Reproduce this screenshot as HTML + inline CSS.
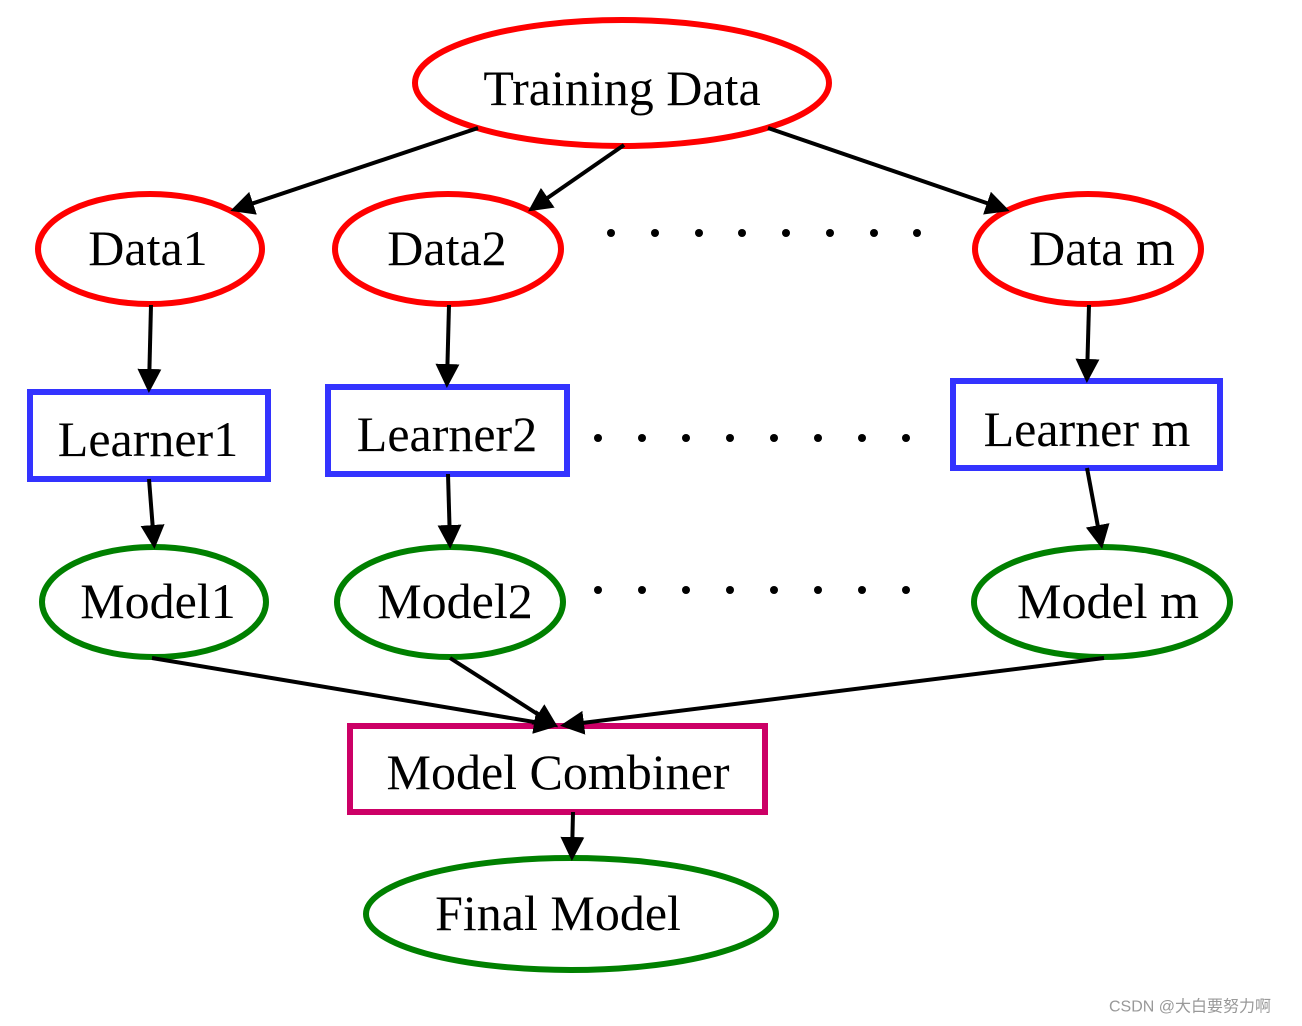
<!DOCTYPE html>
<html><head><meta charset="utf-8"><style>
html,body{margin:0;padding:0;background:#fff;}
svg{display:block;}
text{font-family:"Liberation Serif",serif;font-size:50px;fill:#000;text-anchor:middle;dominant-baseline:central;}
</style></head><body>
<svg width="1302" height="1026" viewBox="0 0 1302 1026" xmlns="http://www.w3.org/2000/svg">
<defs>
<marker id="a" markerWidth="6" markerHeight="6" refX="4.5" refY="3" orient="auto" markerUnits="strokeWidth">
<path d="M0,0 L6,3 L0,6 z" fill="#000"/></marker>
</defs>
<g fill="none" stroke-width="6">
<ellipse cx="622" cy="83" rx="207" ry="63" stroke="#f00"/>
<ellipse cx="150" cy="249" rx="112" ry="55" stroke="#f00"/>
<ellipse cx="448" cy="249" rx="113" ry="55" stroke="#f00"/>
<ellipse cx="1088" cy="249" rx="113" ry="55" stroke="#f00"/>
<rect x="30" y="392" width="238" height="87" stroke="#3333ff"/>
<rect x="328" y="387" width="239" height="87" stroke="#3333ff"/>
<rect x="953" y="381" width="267" height="87" stroke="#3333ff"/>
<ellipse cx="154" cy="602" rx="112" ry="55" stroke="#008000"/>
<ellipse cx="450" cy="602" rx="113" ry="55" stroke="#008000"/>
<ellipse cx="1102" cy="602" rx="128" ry="55" stroke="#008000"/>
<rect x="350" y="726" width="415" height="86" stroke="#cc0066"/>
<ellipse cx="571" cy="914" rx="205" ry="56" stroke="#008000"/>
</g>
<g stroke="#000" stroke-width="4" marker-end="url(#a)">
<line x1="478" y1="128" x2="236" y2="209"/>
<line x1="624" y1="145" x2="533" y2="208"/>
<line x1="768" y1="128" x2="1004" y2="209"/>
<line x1="151" y1="305" x2="149" y2="387"/>
<line x1="449" y1="305" x2="447" y2="382"/>
<line x1="1089" y1="305" x2="1087" y2="377"/>
<line x1="149" y1="479" x2="154" y2="543"/>
<line x1="448" y1="474" x2="450" y2="543"/>
<line x1="1087" y1="468" x2="1101" y2="543"/>
<line x1="152" y1="658" x2="552" y2="725"/>
<line x1="450" y1="658" x2="553" y2="724"/>
<line x1="1104" y1="658" x2="566" y2="725"/>
<line x1="573" y1="812" x2="572" y2="855"/>
</g>
<g fill="#000">
<circle cx="611" cy="233" r="4"/><circle cx="655" cy="233" r="4"/><circle cx="699" cy="233" r="4"/><circle cx="742" cy="233" r="4"/><circle cx="786" cy="233" r="4"/><circle cx="830" cy="233" r="4"/><circle cx="874" cy="233" r="4"/><circle cx="917" cy="233" r="4"/>
<circle cx="598" cy="438" r="4"/><circle cx="642" cy="438" r="4"/><circle cx="686" cy="438" r="4"/><circle cx="730" cy="438" r="4"/><circle cx="774" cy="438" r="4"/><circle cx="818" cy="438" r="4"/><circle cx="862" cy="438" r="4"/><circle cx="906" cy="438" r="4"/>
<circle cx="598" cy="590" r="4"/><circle cx="642" cy="590" r="4"/><circle cx="686" cy="590" r="4"/><circle cx="730" cy="590" r="4"/><circle cx="774" cy="590" r="4"/><circle cx="818" cy="590" r="4"/><circle cx="862" cy="590" r="4"/><circle cx="906" cy="590" r="4"/>
</g>
<text x="622" y="88">Training Data</text>
<text x="148" y="248">Data1</text>
<text x="447" y="248">Data2</text>
<text x="1102" y="248">Data m</text>
<text x="148" y="439">Learner1</text>
<text x="447" y="434">Learner2</text>
<text x="1087" y="429">Learner m</text>
<text x="158" y="601">Model1</text>
<text x="455" y="601">Model2</text>
<text x="1108" y="601">Model m</text>
<text x="558" y="772">Model Combiner</text>
<text x="558" y="913">Final Model</text>
<text x="1190" y="1007" style="font-family:'Liberation Sans','Noto Sans CJK SC',sans-serif;font-size:16px;fill:#999">CSDN @大白要努力啊</text>
</svg>
</body></html>
